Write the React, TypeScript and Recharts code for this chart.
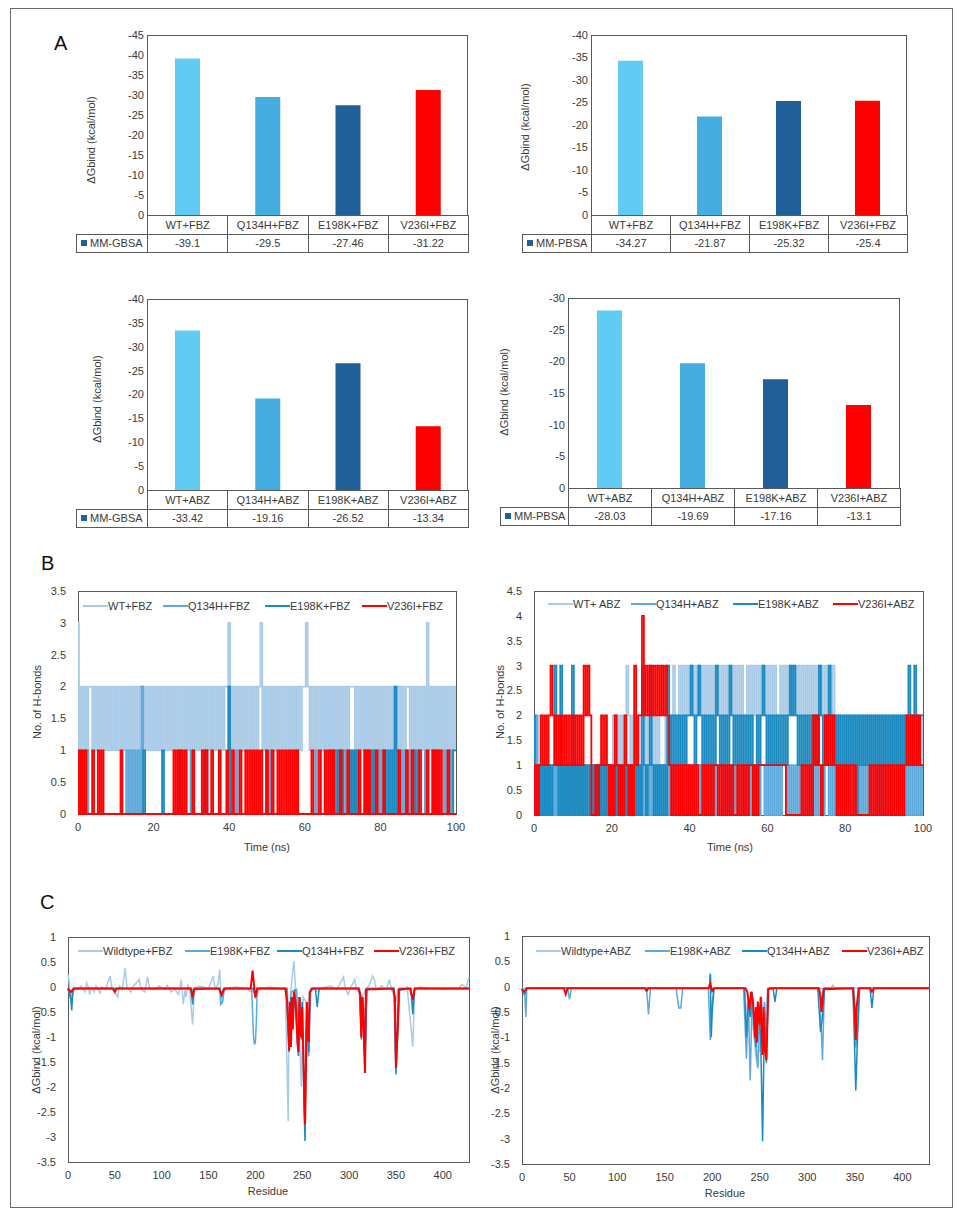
import { BarChart, Bar, Cell, XAxis, YAxis, LineChart, Line } from 'recharts'

const FONT = '"Liberation Sans", Arial, sans-serif'
const TXT = '#3a3a3a'
const FRAME = '#595959'

// ---- A: binding free energies ----
const fbzComplexes = ['WT+FBZ', 'Q134H+FBZ', 'E198K+FBZ', 'V236I+FBZ']
const abzComplexes = ['WT+ABZ', 'Q134H+ABZ', 'E198K+ABZ', 'V236I+ABZ']
const gbsaFbz = [-39.1, -29.5, -27.46, -31.22]
const pbsaFbz = [-34.27, -21.87, -25.32, -25.4]
const gbsaAbz = [-33.42, -19.16, -26.52, -13.34]
const pbsaAbz = [-28.03, -19.69, -17.16, -13.1]
const barColors = ['#61CBF3', '#45ADDF', '#215F9A', '#FF0000']
const ticks45 = [0, -5, -10, -15, -20, -25, -30, -35, -40, -45]
const ticks40 = [0, -5, -10, -15, -20, -25, -30, -35, -40]
const ticks30 = [0, -5, -10, -15, -20, -25, -30]

// ---- B: H-bond counts, one frame every 0.5 ns ----
const HBOND_STEP_NS = 0.5
const timeTicks = [0, 20, 40, 60, 80, 100]
const hbTicks35 = [0, 0.5, 1, 1.5, 2, 2.5, 3, 3.5]
const hbTicks45 = [0, 0.5, 1, 1.5, 2, 2.5, 3, 3.5, 4, 4.5]

const wtFbz = [
  3,1,2,1,2,1,2,2,1,2,1,2,1,2,1,2,1,2,1,2,
  1,2,1,2,1,2,1,2,1,2,1,2,1,2,2,1,2,1,2,1,
  2,1,2,1,2,1,2,1,2,1,2,1,2,1,2,1,2,1,2,1,
  2,1,2,1,2,1,2,1,2,1,2,1,2,1,2,1,2,1,2,2,
  3,1,2,1,2,1,2,1,2,1,2,1,2,1,2,1,2,3,1,2,
  1,2,1,2,1,2,1,2,1,2,1,2,1,2,1,2,1,2,1,2,
  2,3,2,1,2,1,2,1,2,1,2,1,2,1,2,1,2,1,2,1,
  2,1,2,1,2,2,2,1,2,1,2,1,2,1,2,1,2,1,2,1,
  2,1,2,1,2,1,2,1,2,1,2,1,2,1,2,2,1,2,1,2,
  1,2,1,2,1,3,1,2,1,2,1,2,1,2,1,2,1,2,1,2,
  1,
]
const q134hFbz = [
  1,1,0,1,0,1,0,0,0,0,0,0,0,0,0,0,0,0,0,0,
  0,0,0,0,0,0,1,0,1,0,1,0,1,0,2,0,0,0,0,0,
  0,0,0,0,0,0,0,0,0,0,0,0,0,0,0,0,0,0,0,0,
  1,0,0,0,0,0,0,1,0,0,0,0,0,0,0,0,0,0,0,0,
  0,0,0,0,1,0,0,0,0,0,0,0,0,0,0,0,0,0,0,0,
  1,0,1,0,0,0,0,0,0,0,0,0,0,0,0,0,0,0,0,0,
  0,0,0,0,0,0,1,0,0,0,0,0,0,0,0,0,0,0,0,0,
  0,0,1,0,1,0,1,0,1,0,0,0,0,0,0,0,1,0,1,0,
  1,0,0,0,0,0,0,0,0,0,0,0,1,0,1,0,1,0,0,0,
  0,0,0,0,1,0,0,0,0,0,0,0,0,0,1,0,1,0,1,0,
  0,
]
const e198kFbz = [
  1,0,0,0,0,0,0,0,0,0,0,0,0,0,0,0,0,0,0,0,
  0,0,0,0,0,0,0,0,0,0,0,0,0,0,0,1,0,0,0,0,
  0,0,0,0,0,1,0,0,0,0,0,0,0,0,1,0,0,0,0,0,
  0,0,0,0,0,0,0,0,1,0,0,0,0,0,0,0,0,0,0,0,
  2,0,0,0,0,0,0,0,0,0,0,0,0,0,0,0,0,0,0,0,
  0,0,0,0,0,0,0,0,0,0,0,0,0,0,0,0,1,0,0,0,
  0,0,0,0,0,0,0,0,0,0,0,0,0,0,1,0,1,0,1,0,
  1,0,0,0,0,1,0,1,0,0,0,0,1,0,1,0,1,0,0,0,
  0,0,1,0,1,0,1,0,2,0,1,0,0,0,0,0,0,0,1,0,
  1,0,0,0,0,0,0,0,1,0,1,0,0,0,0,0,0,0,0,1,
  1,
]
const v236iFbz = [
  1,0,1,0,1,0,0,0,1,0,0,1,0,1,0,0,0,0,0,0,
  0,0,0,1,0,0,0,0,0,0,0,0,0,0,0,0,0,0,0,0,
  0,0,0,0,0,0,0,0,0,0,0,1,0,1,0,1,0,1,0,0,
  0,1,0,0,0,0,1,0,1,0,0,1,0,0,0,1,0,0,0,1,
  0,0,1,0,0,0,1,0,0,1,0,1,0,1,0,1,0,1,0,0,
  1,0,0,1,0,0,1,0,1,0,1,0,1,0,1,0,1,0,0,0,
  0,0,0,0,1,0,0,0,1,0,0,1,0,1,0,1,0,0,0,1,
  0,0,0,1,0,0,0,0,0,1,0,0,1,0,1,0,0,0,1,0,
  0,0,1,0,0,0,0,0,0,0,1,0,0,0,1,0,0,1,0,0,
  0,1,0,0,0,1,0,0,1,0,1,0,1,0,0,0,1,0,0,0,
  0,
]

const wtAbz = [
  2,1,2,1,1,0,1,0,1,1,0,1,0,1,1,0,1,0,1,1,
  0,1,0,1,1,0,1,0,1,1,0,1,0,1,0,1,0,1,0,1,
  1,2,1,2,1,2,1,2,3,2,1,2,1,2,1,2,3,2,1,2,
  1,2,1,2,1,2,3,2,1,2,1,2,3,2,2,3,2,3,2,3,
  2,3,2,3,2,3,2,3,2,3,2,3,2,3,2,3,2,3,2,3,
  2,3,2,3,2,3,2,3,2,2,3,2,3,2,3,2,3,2,3,2,
  3,2,3,2,3,2,2,3,2,3,2,3,2,3,2,2,3,2,3,2,
  3,2,3,2,3,2,3,2,3,2,3,2,3,2,3,2,1,2,1,1,
  2,1,2,1,2,1,2,1,2,1,2,1,2,1,2,1,2,1,2,1,
  2,1,2,1,2,1,2,1,2,1,2,1,2,1,2,1,2,1,2,1,
  2,
]
const q134hAbz = [
  1,2,1,0,1,0,1,0,1,0,1,0,1,0,1,0,1,0,1,0,
  1,0,1,0,1,0,1,0,0,0,1,0,1,0,1,0,0,1,0,1,
  0,1,0,1,0,1,1,0,1,0,1,0,1,0,1,0,1,0,1,0,
  1,0,1,0,1,0,1,1,0,1,0,1,0,1,0,1,0,1,1,0,
  1,0,1,0,1,1,0,1,0,1,0,1,0,1,0,1,1,0,1,0,
  1,0,1,0,1,0,1,1,0,1,0,1,0,1,0,1,0,1,1,0,
  1,0,1,0,1,0,1,0,1,1,0,1,0,1,0,1,0,1,0,1,
  1,0,1,0,1,0,1,0,1,0,1,1,0,1,0,1,0,1,0,1,
  0,1,0,1,1,0,1,0,1,0,1,0,1,0,1,1,0,1,0,1,
  0,1,0,1,0,1,1,0,1,0,1,0,1,0,1,0,1,0,1,0,
  1,
]
const e198kAbz = [
  2,0,1,0,1,0,1,0,1,0,1,3,1,0,3,0,1,0,1,0,
  3,0,1,0,1,0,1,0,1,0,1,0,1,0,1,0,1,0,1,0,
  1,0,1,0,1,0,1,0,1,0,1,0,1,0,1,0,3,1,0,1,
  3,1,0,1,0,1,0,1,0,3,1,2,1,2,1,2,1,2,1,2,
  2,3,2,1,2,3,2,1,2,1,2,1,2,1,3,2,1,2,1,2,
  1,3,2,1,2,1,2,1,2,1,2,1,2,0,1,2,1,2,3,2,
  1,2,1,2,1,2,1,2,1,2,1,2,3,2,3,2,1,2,1,2,
  1,2,1,2,1,2,1,3,2,1,2,1,3,2,1,2,1,2,1,2,
  1,2,1,2,1,2,0,2,1,2,1,2,1,2,1,2,1,2,1,2,
  1,2,1,2,1,2,1,2,1,2,1,2,1,3,2,1,3,2,1,2,
  2,
]
const v236iAbz = [
  0,1,0,1,2,1,2,1,2,3,2,1,2,1,2,1,2,1,2,1,
  2,1,2,1,2,1,3,2,3,2,0,0,1,0,1,2,1,2,1,0,
  1,0,2,1,0,1,0,2,1,0,1,0,3,1,2,2,4,2,3,2,
  3,2,3,2,3,2,3,2,3,2,1,0,1,0,1,0,1,0,1,0,
  1,0,1,0,1,0,0,1,0,1,0,1,0,1,1,0,1,0,1,0,
  1,0,1,0,0,1,0,1,0,1,0,1,1,0,1,0,1,1,1,1,
  1,1,1,1,1,1,1,1,1,1,0,0,0,0,0,0,0,0,1,0,
  1,0,1,0,2,1,2,1,0,1,2,1,2,1,2,1,0,1,0,1,
  0,1,0,1,0,1,0,0,0,0,0,0,0,1,0,1,0,1,0,1,
  0,1,0,1,0,1,0,1,0,1,0,1,2,1,2,1,2,1,2,1,
  1,
]

// ---- C: per-residue decomposition, [residue, kcal/mol] ----
const residueTicks = [0, 50, 100, 150, 200, 250, 300, 350, 400]
const decompTicks = [1, 0.5, 0, -0.5, -1, -1.5, -2, -2.5, -3, -3.5]

const wtFbzRes: [number, number][] = [
  [0,0.25],[1,0.15],[2,-0.05],[4,-0.2],[6,-0.02],[10,-0.05],[14,0.02],[18,-0.1],[20,0.08],[22,-0.02],
  [23,-0.15],[25,-0.02],[28,-0.1],[30,0.02],[34,-0.12],[36,0],[40,-0.05],[45,0.22],[47,-0.05],[50,-0.1],
  [53,-0.2],[55,0.02],[58,-0.05],[61,0.38],[63,-0.02],[67,-0.1],[70,0.02],[76,0.15],[78,-0.05],[82,-0.1],
  [85,0.2],[87,-0.02],[92,-0.05],[97,0.02],[103,-0.05],[106,0.03],[110,-0.1],[114,-0.05],[118,-0.15],[121,0.15],
  [123,-0.35],[125,-0.05],[126,-0.2],[128,0.05],[130,-0.1],[133,-0.75],[135,-0.05],[140,0.02],[150,-0.03],[155,0.22],
  [157,-0.05],[160,0.05],[162,0.35],[163,-0.05],[164,-0.35],[166,-0.1],[170,-0.02],[180,0],[190,-0.03],[196,-0.1],
  [198,-0.02],[200,-0.2],[205,-0.03],[215,0],[225,-0.03],[232,-0.05],[235,-2.68],[236,-0.5],[238,-0.05],[241,0.52],
  [243,-0.05],[246,-0.4],[249,-2.0],[251,-0.2],[254,-0.3],[256,-1.4],[258,-0.1],[262,-0.03],[267,-0.1],[270,-0.02],
  [280,0.02],[287,-0.05],[294,0.2],[296,-0.02],[299,-0.15],[302,0],[306,0.15],[308,-0.05],[314,-0.2],[318,-0.05],
  [322,0.05],[325,0.22],[327,0.15],[329,-0.05],[335,0.02],[340,-0.05],[343,0.15],[345,-0.02],[350,-0.3],[352,-0.05],
  [357,-0.07],[362,0],[368,-1.2],[370,-0.05],[375,0],[390,-0.03],[402,-0.05],[410,-0.03],[415,-0.05],[421,0.05],
  [425,-0.02],[428,0.2],
]
const e198kFbzRes: [number, number][] = [
  [0,-0.03],[3,-0.2],[4,-0.3],[6,-0.03],[131,-0.03],[133,-0.3],[135,-0.03],[162,-0.03],[163,-0.35],[165,-0.3],
  [167,-0.03],[196,-0.03],[198,-1.0],[199,-1.15],[200,-1.1],[201,-0.7],[202,-0.03],[234,-0.03],[236,-1.0],[238,-0.1],
  [244,-0.05],[246,-1.3],[248,-0.2],[251,-1.1],[253,-2.9],[255,-0.3],[257,-1.38],[259,-0.03],[311,-0.03],[313,-0.9],
  [315,-0.2],[317,-1.5],[319,-0.03],[348,-0.03],[350,-1.6],[352,-0.5],[354,-0.03],[366,-0.03],[368,-0.4],[370,-0.03],
  [428,-0.03],
]
const q134hFbzRes: [number, number][] = [
  [0,-0.03],[3,-0.25],[4,-0.47],[5,-0.1],[7,-0.03],[132,-0.03],[133,-0.35],[134,-0.05],[162,-0.03],[164,-0.2],
  [166,-0.03],[198,-0.03],[200,-0.22],[202,-0.03],[233,-0.03],[236,-1.3],[238,-0.2],[240,-0.8],[242,-0.05],[245,-1.2],
  [246,-1.38],[247,-0.2],[249,-1.05],[250,-0.3],[252,-2.5],[253,-3.08],[254,-1.0],[255,-0.3],[257,-1.3],[258,-0.1],
  [260,-0.03],[264,-0.03],[266,-0.4],[268,-0.03],[311,-0.03],[313,-1.05],[315,-0.3],[317,-1.6],[319,-0.03],[348,-0.03],
  [350,-1.75],[352,-0.9],[354,-0.03],[366,-0.03],[368,-0.55],[370,-0.03],[428,-0.03],
]
const v236iFbzRes: [number, number][] = [
  [0,-0.03],[2,-0.08],[3,-0.1],[4,-0.08],[6,-0.03],[48,-0.03],[50,-0.1],[52,-0.03],[131,-0.03],[133,-0.2],
  [135,-0.03],[161,-0.03],[164,-0.15],[167,-0.03],[195,-0.03],[197,0.33],[199,-0.05],[200,-0.2],[202,-0.03],[232,-0.03],
  [234,-0.3],[236,-1.27],[237,-0.3],[238,-1.2],[239,-0.2],[240,-0.85],[241,-0.1],[243,-0.3],[245,-1.1],[246,-1.3],
  [247,-0.2],[248,-0.9],[249,-1.0],[250,-0.4],[251,-1.2],[252,-2.0],[253,-2.75],[254,-1.5],[255,-0.3],[256,-1.0],
  [257,-1.1],[258,-0.1],[261,-0.03],[310,-0.03],[312,-0.15],[313,-1.0],[314,-0.2],[315,-0.4],[316,-1.2],[317,-1.72],
  [318,-0.05],[347,-0.03],[349,-0.2],[350,-1.62],[351,-1.2],[352,-0.8],[353,-0.05],[365,-0.03],[368,-0.25],[370,-0.03],
  [428,-0.03],
]

const wtAbzRes: [number, number][] = [
  [0,-0.03],[197,-0.03],[198,0.28],[200,-0.1],[202,-0.03],[234,-0.03],[238,-0.9],[240,-0.2],[246,-1.4],[248,-1.62],
  [249,-0.3],[250,-1.3],[252,-0.2],[256,-0.8],[258,-0.03],[325,-0.03],[327,0.03],[329,-0.03],[428,-0.03],
]
const e198kAbzRes: [number, number][] = [
  [0,-0.03],[3,-0.2],[4,-0.6],[5,-0.05],[7,-0.03],[48,-0.03],[50,-0.25],[52,-0.03],[131,-0.03],[133,-0.55],
  [135,-0.03],[162,-0.03],[164,-0.3],[165,-0.42],[167,-0.42],[169,-0.03],[196,-0.03],[198,-1.05],[200,-0.3],[202,-0.03],
  [233,-0.03],[236,-1.42],[238,-0.3],[240,-1.85],[242,-0.2],[245,-1.0],[248,-1.6],[250,-0.4],[253,-1.3],[255,-0.3],
  [257,-1.0],[259,-0.03],[313,-0.03],[316,-1.45],[318,-0.03],[349,-0.03],[351,-1.2],[353,-0.8],[355,-0.03],[428,-0.03],
]
const q134hAbzRes: [number, number][] = [
  [0,-0.03],[3,-0.15],[5,-0.03],[197,-0.03],[198,0.25],[199,-1.0],[200,-0.5],[202,-0.03],[234,-0.03],[236,-1.0],
  [238,-0.3],[240,-0.6],[242,-0.1],[246,-1.2],[248,-0.3],[251,-1.0],[253,-3.05],[255,-0.5],[257,-1.5],[259,-0.05],
  [264,-0.03],[266,-0.3],[268,-0.03],[311,-0.03],[314,-0.9],[316,-0.6],[318,-0.03],[348,-0.03],[351,-2.05],[353,-0.9],
  [355,-0.03],[366,-0.03],[368,-0.42],[370,-0.03],[428,-0.03],
]
const v236iAbzRes: [number, number][] = [
  [0,-0.05],[1,-0.1],[3,-0.08],[5,-0.03],[44,-0.03],[46,-0.15],[48,-0.03],[129,-0.03],[131,-0.08],[133,-0.03],
  [196,-0.03],[198,0.05],[200,-0.08],[202,-0.03],[235,-0.03],[237,-0.1],[239,-0.45],[241,-0.1],[243,-0.3],[245,-1.0],
  [246,-0.4],[247,-1.1],[248,-0.3],[250,-0.75],[251,-0.2],[253,-1.35],[254,-0.4],[255,-1.2],[257,-1.45],[259,-0.05],
  [261,-0.03],[312,-0.03],[314,-0.2],[315,-0.5],[317,-0.05],[348,-0.03],[350,-0.5],[351,-1.05],[352,-0.4],[354,-0.03],
  [366,-0.03],[368,-0.1],[370,-0.03],[428,-0.03],
]

const C_WT = '#A9CBE7'
const C_MID = '#5DA8DC'
const C_TEAL = '#1A8AC0'
const C_RED = '#FF0000'

const tickStyle = { fontSize: 11, fill: TXT, fontFamily: FONT }

function hbondRows(wt: number[], q: number[], e: number[], v: number[]) {
  return wt.map((_, i) => ({ t: i * HBOND_STEP_NS, wt: wt[i], q: q[i], e: e[i], v: v[i] }))
}

function residueRows(series: Record<string, [number, number][]>) {
  const byRes = new Map<number, any>()
  for (const [key, pts] of Object.entries(series)) {
    for (const [r, val] of pts) {
      const row = byRes.get(r) ?? { res: r }
      row[key] = val
      byRes.set(r, row)
    }
  }
  return [...byRes.values()].sort((a, b) => a.res - b.res)
}

function AxisTitle({ x, y, text, vertical }: { x: number; y: number; text: string; vertical?: boolean }) {
  return (
    <div
      style={{
        position: 'absolute', left: x, top: y, fontSize: 11, lineHeight: '13px', color: TXT, whiteSpace: 'nowrap',
        transform: `translate(-50%, -50%)${vertical ? ' rotate(-90deg)' : ''}`,
      }}
    >
      {text}
    </div>
  )
}

function PlotFrame({ left, top, w, h }: { left: number; top: number; w: number; h: number }) {
  return <div style={{ position: 'absolute', left, top, width: w, height: h, border: `1px solid ${FRAME}`, boxSizing: 'border-box' }} />
}

interface KeyItem { name: string; color: string; x: number }

function SeriesKey({ y, items }: { y: number; items: KeyItem[] }) {
  return (
    <>
      {items.map((it) => (
        <div key={it.name} style={{ position: 'absolute', left: it.x, top: y - 7, height: 14, display: 'flex', alignItems: 'center', fontSize: 11, color: TXT, whiteSpace: 'nowrap' }}>
          <div style={{ width: 25, height: 2.5, background: it.color }} />
          <span>{it.name}</span>
        </div>
      ))}
    </>
  )
}

interface EnergyProps {
  x0: number; left: number; top: number; w: number; h: number; row: number
  ticks: number[]; names: string[]; values: number[]; method: string
}

function EnergyBars({ x0, left, top, w, h, row, ticks, names, values, method }: EnergyProps) {
  const data = names.map((name, i) => ({ name, value: values[i] }))
  const band = w / names.length
  const cell = { position: 'absolute' as const, border: `1px solid ${FRAME}`, boxSizing: 'border-box' as const, display: 'flex', alignItems: 'center', justifyContent: 'center', fontSize: 11, color: TXT }
  return (
    <>
      <PlotFrame left={left} top={top} w={w} h={h + 1} />
      <div style={{ position: 'absolute', left: left - 60, top: top - 10 }}>
        <BarChart width={w + 70} height={h + 20} data={data} margin={{ top: 10, right: 10, bottom: 10, left: 0 }}>
          <XAxis dataKey="name" hide />
          <YAxis width={60} type="number" domain={[Math.min(...ticks), 0]} reversed ticks={ticks} interval={0}
            axisLine={false} tickLine={false} tickSize={0} tickMargin={3} tick={tickStyle} />
          <Bar dataKey="value" barSize={25} isAnimationActive={false}>
            {data.map((d, i) => <Cell key={d.name} fill={barColors[i]} />)}
          </Bar>
        </BarChart>
      </div>
      {data.map((d, i) => (
        <div key={'h' + d.name} style={{ ...cell, left: left + i * band, top: top + h, width: band + 1, height: row + 1 }}>{d.name}</div>
      ))}
      <div style={{ ...cell, justifyContent: 'flex-start', left: x0, top: top + h + row, width: left - x0 + 1, height: row + 1 }}>
        <div style={{ width: 6, height: 6, background: '#215F9A', marginLeft: 4, marginRight: 3 }} />
        {method}
      </div>
      {data.map((d, i) => (
        <div key={'v' + d.name} style={{ ...cell, left: left + i * band, top: top + h + row, width: band + 1, height: row + 1 }}>{String(d.value)}</div>
      ))}
    </>
  )
}

interface SeriesDef { key: string; color: string; width: number }

function HBondPanel({ left, top, w, h, ticks, rows, series }: { left: number; top: number; w: number; h: number; ticks: number[]; rows: any[]; series: SeriesDef[] }) {
  return (
    <>
      <PlotFrame left={left} top={top} w={w + 1} h={h + 1} />
      <div style={{ position: 'absolute', left: left - 50, top: top - 10 }}>
        <LineChart width={w + 60} height={h + 40} data={rows} margin={{ top: 10, right: 10, bottom: 0, left: 0 }}>
          <XAxis dataKey="t" type="number" domain={[0, 100]} ticks={timeTicks} interval={0} height={30}
            axisLine={false} tickLine={false} tickSize={0} tickMargin={9} tick={tickStyle} />
          <YAxis width={50} type="number" domain={[0, Math.max(...ticks)]} ticks={ticks} interval={0}
            axisLine={false} tickLine={false} tickSize={0} tickMargin={12} tick={tickStyle} />
          {series.map((s) => (
            <Line key={s.key} type="step" dataKey={s.key} stroke={s.color} strokeWidth={s.width} dot={false} isAnimationActive={false} />
          ))}
        </LineChart>
      </div>
    </>
  )
}

function DecompPanel({ left, top, w, h, rows, series }: { left: number; top: number; w: number; h: number; rows: any[]; series: SeriesDef[] }) {
  return (
    <>
      <PlotFrame left={left} top={top} w={w + 1} h={h + 1} />
      <div style={{ position: 'absolute', left: left - 50, top: top - 10 }}>
        <LineChart width={w + 60} height={h + 40} data={rows} margin={{ top: 10, right: 10, bottom: 0, left: 0 }}>
          <XAxis dataKey="res" type="number" domain={[0, 428]} ticks={residueTicks} interval={0} height={30}
            axisLine={false} tickLine={false} tickSize={0} tickMargin={9} tick={tickStyle} />
          <YAxis width={50} type="number" domain={[-3.5, 1]} ticks={decompTicks} interval={0}
            axisLine={false} tickLine={false} tickSize={0} tickMargin={12} tick={tickStyle} />
          {series.map((s) => (
            <Line key={s.key} dataKey={s.key} stroke={s.color} strokeWidth={s.width} dot={false} connectNulls isAnimationActive={false} />
          ))}
        </LineChart>
      </div>
    </>
  )
}

const hbSeries: SeriesDef[] = [
  { key: 'wt', color: C_WT, width: 1.8 },
  { key: 'q', color: C_MID, width: 1.8 },
  { key: 'e', color: C_TEAL, width: 1.8 },
  { key: 'v', color: C_RED, width: 1.8 },
]
const decSeries: SeriesDef[] = [
  { key: 'wt', color: C_WT, width: 1.5 },
  { key: 'e', color: C_MID, width: 1.5 },
  { key: 'q', color: C_TEAL, width: 1.5 },
  { key: 'v', color: C_RED, width: 2 },
]

export default function App() {
  const hbFbz = hbondRows(wtFbz, q134hFbz, e198kFbz, v236iFbz)
  const hbAbz = hbondRows(wtAbz, q134hAbz, e198kAbz, v236iAbz)
  const decFbz = residueRows({ wt: wtFbzRes, e: e198kFbzRes, q: q134hFbzRes, v: v236iFbzRes })
  const decAbz = residueRows({ wt: wtAbzRes, e: e198kAbzRes, q: q134hAbzRes, v: v236iAbzRes })
  const yLab = 'ΔGbind (kcal/mol)'
  return (
    <div style={{ position: 'absolute', left: 0, top: 0, width: 964, height: 1217, background: '#fff', fontFamily: FONT, overflow: 'hidden' }}>
      <div style={{ position: 'absolute', left: 10, top: 8, width: 943, height: 1200, border: '1px solid #6b6b6b', boxSizing: 'border-box' }} />

      <div style={{ position: 'absolute', left: 54, top: 32, fontSize: 20, color: '#111' }}>A</div>
      <div style={{ position: 'absolute', left: 41, top: 552, fontSize: 20, color: '#111' }}>B</div>
      <div style={{ position: 'absolute', left: 40, top: 891, fontSize: 20, color: '#111' }}>C</div>

      <EnergyBars x0={76} left={147} top={35} w={321} h={180} row={18.5} ticks={ticks45} names={fbzComplexes} values={gbsaFbz} method="MM-GBSA" />
      <AxisTitle x={91} y={140} text={yLab} vertical />
      <EnergyBars x0={522} left={591} top={35} w={316} h={180} row={18.5} ticks={ticks40} names={fbzComplexes} values={pbsaFbz} method="MM-PBSA" />
      <AxisTitle x={525} y={127} text={yLab} vertical />
      <EnergyBars x0={76} left={147} top={299} w={321} h={191} row={18.5} ticks={ticks40} names={abzComplexes} values={gbsaAbz} method="MM-GBSA" />
      <AxisTitle x={97} y={399} text={yLab} vertical />
      <EnergyBars x0={500} left={568} top={298} w={332} h={190} row={18.5} ticks={ticks30} names={abzComplexes} values={pbsaAbz} method="MM-PBSA" />
      <AxisTitle x={504} y={392} text={yLab} vertical />

      <HBondPanel left={78} top={591} w={378} h={223} ticks={hbTicks35} rows={hbFbz} series={hbSeries} />
      <SeriesKey y={606} items={[
        { name: 'WT+FBZ', color: C_WT, x: 83 },
        { name: 'Q134H+FBZ', color: C_MID, x: 163 },
        { name: 'E198K+FBZ', color: C_TEAL, x: 265 },
        { name: 'V236I+FBZ', color: C_RED, x: 362 },
      ]} />
      <AxisTitle x={37} y={702} text="No. of H-bonds" vertical />
      <AxisTitle x={267} y={847} text="Time (ns)" />

      <HBondPanel left={534} top={591} w={389} h={224} ticks={hbTicks45} rows={hbAbz} series={hbSeries} />
      <SeriesKey y={604} items={[
        { name: 'WT+ ABZ', color: C_WT, x: 548 },
        { name: 'Q134H+ABZ', color: C_MID, x: 631 },
        { name: 'E198K+ABZ', color: C_TEAL, x: 733 },
        { name: 'V236I+ABZ', color: C_RED, x: 833 },
      ]} />
      <AxisTitle x={500} y={702} text="No. of H-bonds" vertical />
      <AxisTitle x={730} y={847} text="Time (ns)" />

      <DecompPanel left={68} top={937} w={401} h={225} rows={decFbz} series={decSeries} />
      <SeriesKey y={951} items={[
        { name: 'Wildtype+FBZ', color: C_WT, x: 78 },
        { name: 'E198K+FBZ', color: C_MID, x: 185 },
        { name: 'Q134H+FBZ', color: C_TEAL, x: 277 },
        { name: 'V236I+FBZ', color: C_RED, x: 374 },
      ]} />
      <AxisTitle x={36} y={1050} text={yLab} vertical />
      <AxisTitle x={268} y={1191} text="Residue" />

      <DecompPanel left={522} top={936} w={407} h={228} rows={decAbz} series={decSeries} />
      <SeriesKey y={951} items={[
        { name: 'Wildtype+ABZ', color: C_WT, x: 536 },
        { name: 'E198K+ABZ', color: C_MID, x: 645 },
        { name: 'Q134H+ABZ', color: C_TEAL, x: 742 },
        { name: 'V236I+ABZ', color: C_RED, x: 842 },
      ]} />
      <AxisTitle x={495} y={1050} text={yLab} vertical />
      <AxisTitle x={725} y={1193} text="Residue" />
    </div>
  )
}
